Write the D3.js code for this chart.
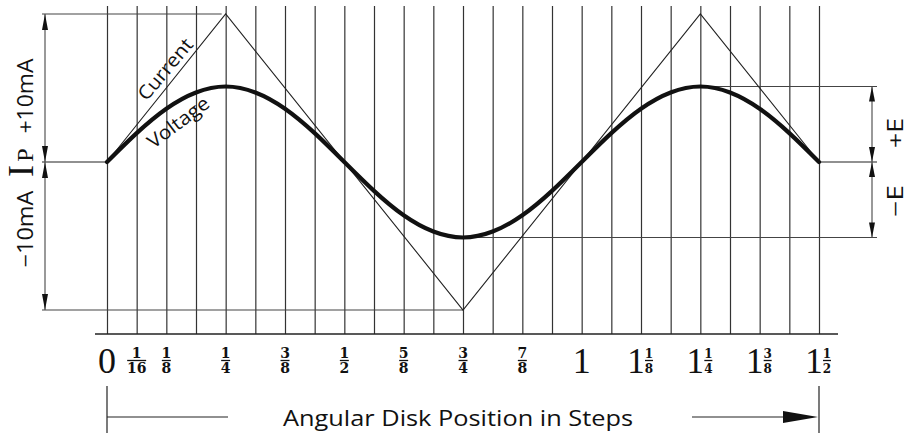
<!DOCTYPE html>
<html><head><meta charset="utf-8">
<script src="https://cdn.jsdelivr.net/npm/d3@7"></script>
<style>html,body{margin:0;padding:0;background:#fff;}svg{display:block;}</style>
</head><body>
<svg id="chart" width="910" height="433"></svg>
<script>
// ---- data ----
const gridSteps = [0,0.0625,0.125,0.1875,0.25,0.3125,0.375,0.4375,0.5,0.5625,0.625,0.6875,0.75,0.8125,0.875,0.9375,1,1.0625,1.125,1.1875,1.25,1.3125,1.375,1.4375,1.5];
const voltage = [0,1.95,3.6,4.7,5.1,4.7,3.6,1.95,0,-1.95,-3.6,-4.7,-5.1,-4.7,-3.6,-1.95,0,1.95,3.6,4.7,5.1,4.7,3.6,1.95,0];
const currentSteps = [0,0.25,0.75,1.25,1.5];
const currentMA = [0,10,-10,10,0];
const tickValues = [0,0.0625,0.125,0.25,0.375,0.5,0.625,0.75,0.875,1,1.125,1.25,1.375,1.5];
const tickWhole = ["0","","","","","","","","","1","1","1","1","1"];
const tickNum   = ["","1","1","1","3","1","5","3","7","","1","1","3","1"];
const tickDen   = ["","16","8","4","8","2","8","4","8","","8","4","8","2"];
const voltPeak = 5.1;

// ---- scales ----
const svg = d3.select("#chart");
const x = d3.scaleLinear().domain([0,1.5]).range([107,819]);
const y = d3.scaleLinear().domain([-10,10]).range([310,14]);
const baseY = 334, topY = 6;
const ink = "#222";
const sans = "'Open Sans', 'DejaVu Sans', sans-serif";

function arrowHead(tipX, tipY, dx, dy, len, wid){
  const bx = tipX - dx*len, by = tipY - dy*len;
  const px = -dy*wid/2, py = dx*wid/2;
  svg.append("path").attr("d",`M${tipX},${tipY}L${bx+px},${by+py}L${bx-px},${by-py}Z`).attr("fill","#111");
}

// ---- vertical grid via axis ----
const gridAxis = d3.axisBottom(x).tickValues(gridSteps).tickSize(-(baseY-topY)).tickFormat("");
const g = svg.append("g").attr("transform",`translate(0,${baseY})`).call(gridAxis);
g.select(".domain").remove();
g.selectAll(".tick line").attr("stroke","#333").attr("stroke-width",1.2);

svg.append("line").attr("x1",95).attr("x2",838).attr("y1",baseY).attr("y2",baseY).attr("stroke",ink).attr("stroke-width",1.3);

// ---- reference lines ----
const refStroke = "#444";
svg.append("line").attr("x1",42).attr("x2",x(0.25)-4).attr("y1",y(10)).attr("y2",y(10)).attr("stroke",refStroke).attr("stroke-width",1.2);
svg.append("line").attr("x1",42).attr("x2",x(0)).attr("y1",y(0)).attr("y2",y(0)).attr("stroke",ink).attr("stroke-width",1.2);
svg.append("line").attr("x1",42).attr("x2",x(0.75)).attr("y1",y(-10)).attr("y2",y(-10)).attr("stroke",refStroke).attr("stroke-width",1.2);
svg.append("line").attr("x1",x(1.25)).attr("x2",877).attr("y1",y(voltPeak)).attr("y2",y(voltPeak)).attr("stroke",refStroke).attr("stroke-width",1.2);
svg.append("line").attr("x1",x(1.5)).attr("x2",877).attr("y1",y(0)).attr("y2",y(0)).attr("stroke",ink).attr("stroke-width",1.2);
svg.append("line").attr("x1",x(0.75)).attr("x2",877).attr("y1",y(-voltPeak)).attr("y2",y(-voltPeak)).attr("stroke",refStroke).attr("stroke-width",1.2);

const lx = 45;
svg.append("line").attr("x1",lx).attr("x2",lx).attr("y1",y(10)).attr("y2",y(-10)).attr("stroke","#555").attr("stroke-width",1.2);
arrowHead(lx,y(10),0,-1,16,6);
arrowHead(lx,y(0),0,1,16,6);
arrowHead(lx,y(0),0,-1,16,6);
arrowHead(lx,y(-10),0,1,16,6);
const rx = 872;
svg.append("line").attr("x1",rx).attr("x2",rx).attr("y1",y(voltPeak)).attr("y2",y(-voltPeak)).attr("stroke","#555").attr("stroke-width",1.2);
arrowHead(rx,y(voltPeak),0,-1,15,6);
arrowHead(rx,y(0),0,1,15,6);
arrowHead(rx,y(0),0,-1,15,6);
arrowHead(rx,y(-voltPeak),0,1,15,6);

// ---- current (triangle) ----
const curLine = d3.line().x((d,i)=>x(currentSteps[i])).y(d=>y(d));
svg.append("path").attr("d",curLine(currentMA)).attr("fill","none").attr("stroke","#222").attr("stroke-width",1.1);

// ---- voltage ----
const vLine = d3.line().x((d,i)=>x(gridSteps[i])).y(d=>y(d)).curve(d3.curveNatural);
svg.append("path").attr("d",vLine(voltage)).attr("fill","none").attr("stroke","#111").attr("stroke-width",4.2).attr("stroke-linecap","round");

// curve labels
svg.append("text").attr("transform","translate(165,69) rotate(-50)").attr("text-anchor","middle").attr("dominant-baseline","central")
  .attr("font-family",sans).attr("font-size",19).attr("fill","#111").attr("textLength",74).attr("lengthAdjust","spacingAndGlyphs").text("Current");
svg.append("text").attr("transform","translate(178,122) rotate(-37)").attr("text-anchor","middle").attr("dominant-baseline","central")
  .attr("font-family",sans).attr("font-size",19).attr("fill","#111").attr("textLength",72).attr("lengthAdjust","spacingAndGlyphs").text("Voltage");

// ---- left axis labels ----
function vText(cx, cy, txt, size, family, len){
  const t = svg.append("text").attr("transform",`translate(${cx},${cy}) rotate(-90)`).attr("text-anchor","middle")
    .attr("font-family",family).attr("font-size",size).attr("fill","#111").text(txt);
  if(len) t.attr("textLength",len).attr("lengthAdjust","spacingAndGlyphs");
  return t;
}
vText(33,96,"+10mA",21,sans,75);
vText(33,229,"\u221210mA",21,sans,77);
vText(33,171,"I",36,"'Liberation Serif', serif");
vText(33,155,"P",24,"'Liberation Serif', serif");
vText(903,133,"+E",21,sans,30);
vText(903,201,"\u2212E",21,sans,32);

// ---- bottom tick labels ----
const lab = svg.append("g");
tickValues.forEach((v,i)=>{
  const cx = x(v);
  const hasFrac = tickNum[i] !== "";
  const hasWhole = tickWhole[i] !== "";
  let fx = cx;
  if(hasWhole){
    const wx = hasFrac ? cx-5 : cx;
    lab.append("text").attr("x",wx).attr("y",373).attr("text-anchor","middle")
      .attr("font-family","'Liberation Serif', serif").attr("font-size",hasFrac ? 35 : 36).attr("fill","#111").text(tickWhole[i]);
    if(hasFrac) fx = cx + 8;
  }
  if(hasFrac){
    const fs = hasWhole ? 12 : 14;
    lab.append("text").attr("x",fx).attr("y",358).attr("text-anchor","middle")
      .attr("font-family","'DejaVu Serif', serif").attr("font-weight","bold").attr("font-size",fs).attr("fill","#111").text(tickNum[i]);
    lab.append("text").attr("x",fx).attr("y",373).attr("text-anchor","middle")
      .attr("font-family","'DejaVu Serif', serif").attr("font-weight","bold").attr("font-size",fs).attr("fill","#111").text(tickDen[i]);
    const w = tickDen[i].length>1 ? 19 : (hasWhole ? 8 : 9);
    lab.append("line").attr("x1",fx-w/2).attr("x2",fx+w/2).attr("y1",360.5).attr("y2",360.5).attr("stroke","#111").attr("stroke-width",1.3);
  }
});

// ---- bottom title with arrow ----
svg.append("line").attr("x1",x(0)).attr("x2",x(0)).attr("y1",386).attr("y2",433).attr("stroke",ink).attr("stroke-width",1.2);
svg.append("line").attr("x1",x(0)).attr("x2",228).attr("y1",417).attr("y2",417).attr("stroke",ink).attr("stroke-width",1.2);
svg.append("line").attr("x1",x(1.5)).attr("x2",x(1.5)).attr("y1",386).attr("y2",433).attr("stroke",ink).attr("stroke-width",1.2);
svg.append("line").attr("x1",692).attr("x2",790).attr("y1",417).attr("y2",417).attr("stroke",ink).attr("stroke-width",1.2);
arrowHead(x(1.5)-1,417,1,0,35,12);
svg.append("text").attr("x",458).attr("y",426).attr("text-anchor","middle").attr("font-family",sans).attr("font-size",22)
  .attr("fill","#111").attr("textLength",350).attr("lengthAdjust","spacingAndGlyphs").text("Angular Disk Position in Steps");
</script>
</body></html>
